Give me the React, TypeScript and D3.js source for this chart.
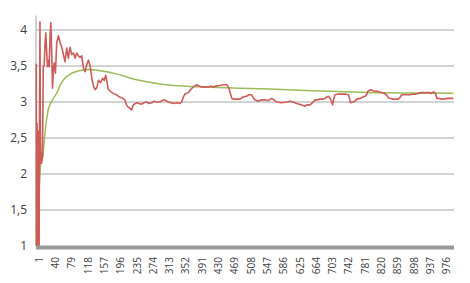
import { useMemo } from "react";
import * as d3 from "d3";

const width = 470;
const height = 283;
const pointCount = 1000;

const yTicks = [1, 1.5, 2, 2.5, 3, 3.5, 4];
const xTickLabels = [
  1, 40, 79, 118, 157, 196, 235, 274, 313, 352, 391, 430, 469, 508, 547, 586, 625,
  664, 703, 742, 781, 820, 859, 898, 937, 976,
];

// [index, value]
const runningValues: [number, number][] = [
  [1, 3.53], [2, 1], [3, 2.7], [4, 1], [5, 2.3], [6, 1.7], [7, 2.6], [8, 1], [9, 2.9],
  [10, 4.11], [11, 2.6], [12, 2.15], [13, 2.3], [14, 2.15], [16, 2.25], [18, 3.49],
  [20, 3.5], [22, 3.8], [24, 3.96], [26, 3.7], [28, 3.49], [30, 3.58], [32, 3.49],
  [34, 3.9], [36, 4.1], [38, 3.7], [40, 3.19], [42, 3.45], [44, 3.54], [47, 3.4],
  [50, 3.82], [54, 3.92], [58, 3.83], [62, 3.76], [66, 3.66], [70, 3.56], [74, 3.75],
  [78, 3.61], [82, 3.76], [86, 3.66], [90, 3.68], [94, 3.61], [98, 3.68], [102, 3.64],
  [106, 3.62], [110, 3.64], [114, 3.47], [118, 3.42], [122, 3.52], [126, 3.58],
  [130, 3.5], [134, 3.33], [138, 3.22], [142, 3.17], [146, 3.2], [150, 3.3],
  [155, 3.27], [160, 3.33], [164, 3.3], [167, 3.37], [170, 3.3], [173, 3.18],
  [178, 3.15], [185, 3.12], [193, 3.1], [200, 3.07], [206, 3.06], [213, 3.03],
  [217, 2.96], [221, 2.93], [225, 2.91], [229, 2.89], [233, 2.96], [241, 2.99],
  [247, 2.98], [253, 2.97], [259, 2.99], [265, 3.0], [271, 2.98], [277, 2.99],
  [283, 3.01], [289, 3.0], [297, 3.0], [305, 3.03], [311, 3.02], [317, 3.0],
  [323, 2.99], [329, 2.98], [337, 2.99], [345, 2.98], [349, 3.0], [353, 3.07],
  [357, 3.11], [365, 3.13], [370, 3.17], [377, 3.21], [385, 3.24], [391, 3.22],
  [397, 3.21], [405, 3.21], [413, 3.21], [419, 3.22], [425, 3.21], [430, 3.22],
  [440, 3.23], [448, 3.24], [458, 3.24], [463, 3.17], [469, 3.05], [472, 3.04],
  [480, 3.04], [488, 3.04], [496, 3.07], [504, 3.08], [510, 3.1], [516, 3.1],
  [520, 3.06], [524, 3.03], [532, 3.01], [540, 3.03], [548, 3.03], [556, 3.02],
  [564, 3.05], [570, 3.03], [576, 3.0], [588, 2.99], [600, 3.0], [608, 3.01],
  [616, 3.0], [624, 2.98], [630, 2.97], [636, 2.96], [644, 2.94], [648, 2.96],
  [656, 2.96], [660, 2.98], [664, 3.0], [668, 3.03], [674, 3.03], [680, 3.04],
  [686, 3.04], [692, 3.05], [696, 3.07], [700, 3.08], [704, 3.05], [708, 3.0],
  [710, 2.96], [713, 3.05], [716, 3.1], [724, 3.11], [732, 3.11], [740, 3.11],
  [748, 3.1], [751, 3.04], [753, 2.99], [757, 3.0], [761, 3.0], [768, 3.04],
  [775, 3.05], [783, 3.07], [788, 3.08], [791, 3.1], [795, 3.15], [801, 3.17],
  [806, 3.16], [811, 3.15], [817, 3.15], [823, 3.14], [827, 3.13], [835, 3.12],
  [839, 3.1], [843, 3.06], [849, 3.05], [855, 3.04], [861, 3.04], [867, 3.04],
  [871, 3.06], [875, 3.1], [881, 3.1], [887, 3.1], [895, 3.1], [903, 3.11],
  [909, 3.11], [915, 3.12], [923, 3.13], [929, 3.13], [935, 3.13], [941, 3.13],
  [947, 3.12], [951, 3.14], [955, 3.13], [957, 3.1], [959, 3.05], [965, 3.05],
  [971, 3.04], [977, 3.04], [983, 3.05], [991, 3.05], [999, 3.05],
];

const averageValues: [number, number][] = [
  [1, 1.0], [2, 2.27], [3, 1.72], [5, 1.68], [7, 1.78], [9, 1.89], [11, 2.1],
  [13, 2.17], [15, 2.2], [17, 2.24], [20, 2.45], [22, 2.57], [25, 2.73], [30, 2.9],
  [35, 2.98], [42, 3.05], [50, 3.12], [58, 3.23], [65, 3.3], [73, 3.35], [86, 3.4],
  [100, 3.43], [115, 3.445], [130, 3.45], [146, 3.44], [170, 3.42], [200, 3.38],
  [233, 3.32], [265, 3.28], [297, 3.25], [330, 3.23], [370, 3.215], [420, 3.205],
  [488, 3.19], [560, 3.18], [644, 3.16], [720, 3.145], [815, 3.13], [900, 3.125],
  [999, 3.12],
];

const App = () => {
  const x = useMemo(
    () => d3.scaleLinear().domain([0.5, pointCount + 0.5]).range([36, 454]),
    []
  );
  const y = useMemo(() => d3.scaleLinear().domain([1, 4.2]).range([246, 15.6]), []);

  const line = d3
    .line<[number, number]>()
    .x((d) => x(d[0]))
    .y((d) => y(d[1]));

  const [x0, x1] = x.range();

  return (
    <svg
      width={width}
      height={height}
      style={{ position: "absolute", left: 0, top: 0, background: "#fff" }}
      fontFamily="'Open Sans', sans-serif"
    >
      {yTicks.slice(1).map((t) => (
        <line key={t} x1={x0} x2={x1} y1={y(t)} y2={y(t)} stroke="#a6a6a6" strokeWidth={1} />
      ))}
      <line x1={x0} x2={x0} y1={y(4.2)} y2={y(1)} stroke="#a6a6a6" strokeWidth={1} />
      {yTicks.map((t) => (
        <text
          key={t}
          x={27}
          y={y(t)}
          dy="0.35em"
          textAnchor="end"
          fontSize={12}
          fill="#404040"
        >
          {String(t).replace(".", ",")}
        </text>
      ))}

      <path
        d={line(averageValues) ?? ""}
        fill="none"
        stroke="#9bbb59"
        strokeWidth={1.5}
        strokeLinejoin="round"
      />
      <path
        d={line(runningValues) ?? ""}
        fill="none"
        stroke="#cd5b58"
        strokeWidth={1.6}
        strokeLinejoin="round"
      />

      <line x1={x0} x2={x1} y1={y(1) + 1.5} y2={y(1) + 1.5} stroke="#999" strokeWidth={4} />

      {xTickLabels.map((t) => (
        <text
          key={t}
          transform={`translate(${x(t) + 3},257) rotate(-90)`}
          dy="0.35em"
          textAnchor="end"
          fontSize={10}
          fill="#404040"
        >
          {t}
        </text>
      ))}
    </svg>
  );
};

export default App;
